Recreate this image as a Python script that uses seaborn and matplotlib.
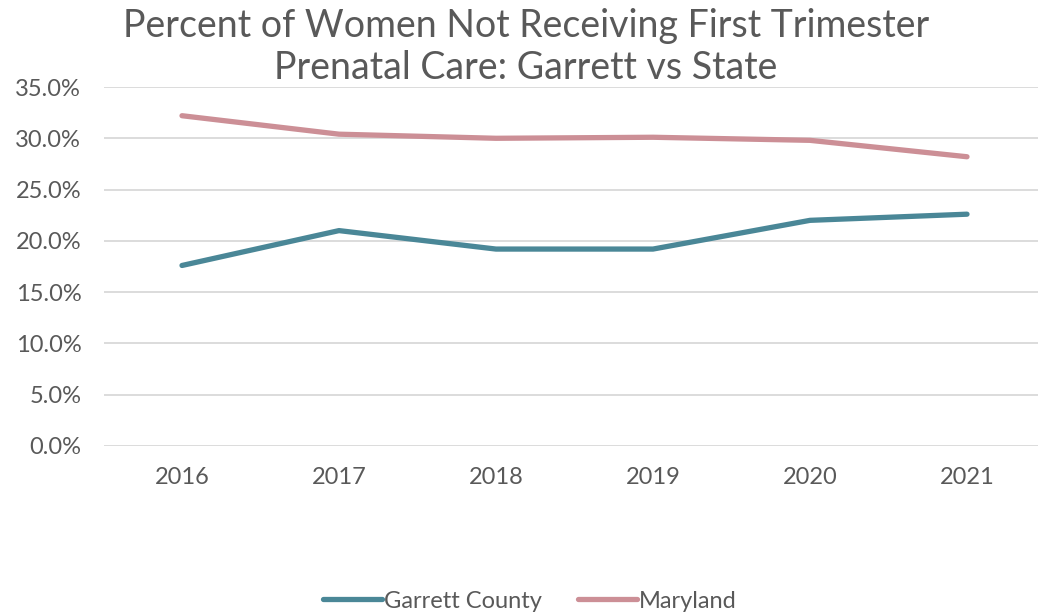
import matplotlib
matplotlib.use("Agg")
import matplotlib.pyplot as plt
import matplotlib.ticker as mtick
import pandas as pd
import seaborn as sns

years = ["2016", "2017", "2018", "2019", "2020", "2021"]
garrett = [0.176, 0.210, 0.192, 0.192, 0.220, 0.226]
maryland = [0.322, 0.304, 0.300, 0.301, 0.298, 0.282]
series_names = ["Garrett County", "Maryland"]
colors = ["#4A8797", "#CC8F96"]

df = pd.DataFrame({
    "year": years * 2,
    "value": garrett + maryland,
    "series": [series_names[0]] * len(years) + [series_names[1]] * len(years),
})

sns.set_theme(style="white")
plt.rcParams["font.family"] = ["Lato", "DejaVu Sans"]

fig = plt.figure(figsize=(10.38, 6.14), dpi=100)
ax = fig.add_axes([103.5 / 1038, 168 / 614, 942 / 1038, 359 / 614])

sns.lineplot(data=df, x="year", y="value", hue="series", palette=colors,
             linewidth=3.8, sort=False, ax=ax)

ax.set_xlim(-0.5, 5.5)
ax.set_ylim(0, 0.35)
ax.set_yticks([i * 0.05 for i in range(8)])
ax.yaxis.set_major_formatter(mtick.PercentFormatter(1.0, decimals=1))
ax.grid(axis="y", color="#d9d9d9", linewidth=1.3)
ax.set_axisbelow(True)
for s in ax.spines.values():
    s.set_visible(False)
ax.tick_params(axis="both", length=0, labelsize=17, labelcolor="#595959")
ax.tick_params(axis="y", pad=16)
ax.tick_params(axis="x", pad=15)
ax.set_xlabel("")
ax.set_ylabel("")

fig.text(526 / 1038, 1 - 47 / 614, "Percent of Women Not Receiving First Trimester\nPrenatal Care: Garrett vs State",
         ha="center", va="center", fontsize=27, color="#595959", linespacing=1.2)

leg = ax.legend(loc="center", bbox_to_anchor=(530 / 1038, 1 - 601 / 614),
                bbox_transform=fig.transFigure, ncol=2, frameon=False,
                fontsize=17, handlelength=2.5, handletextpad=0.1, columnspacing=1.5)
for t in leg.get_texts():
    t.set_color("#595959")

fig.savefig("out.png", dpi=100)
